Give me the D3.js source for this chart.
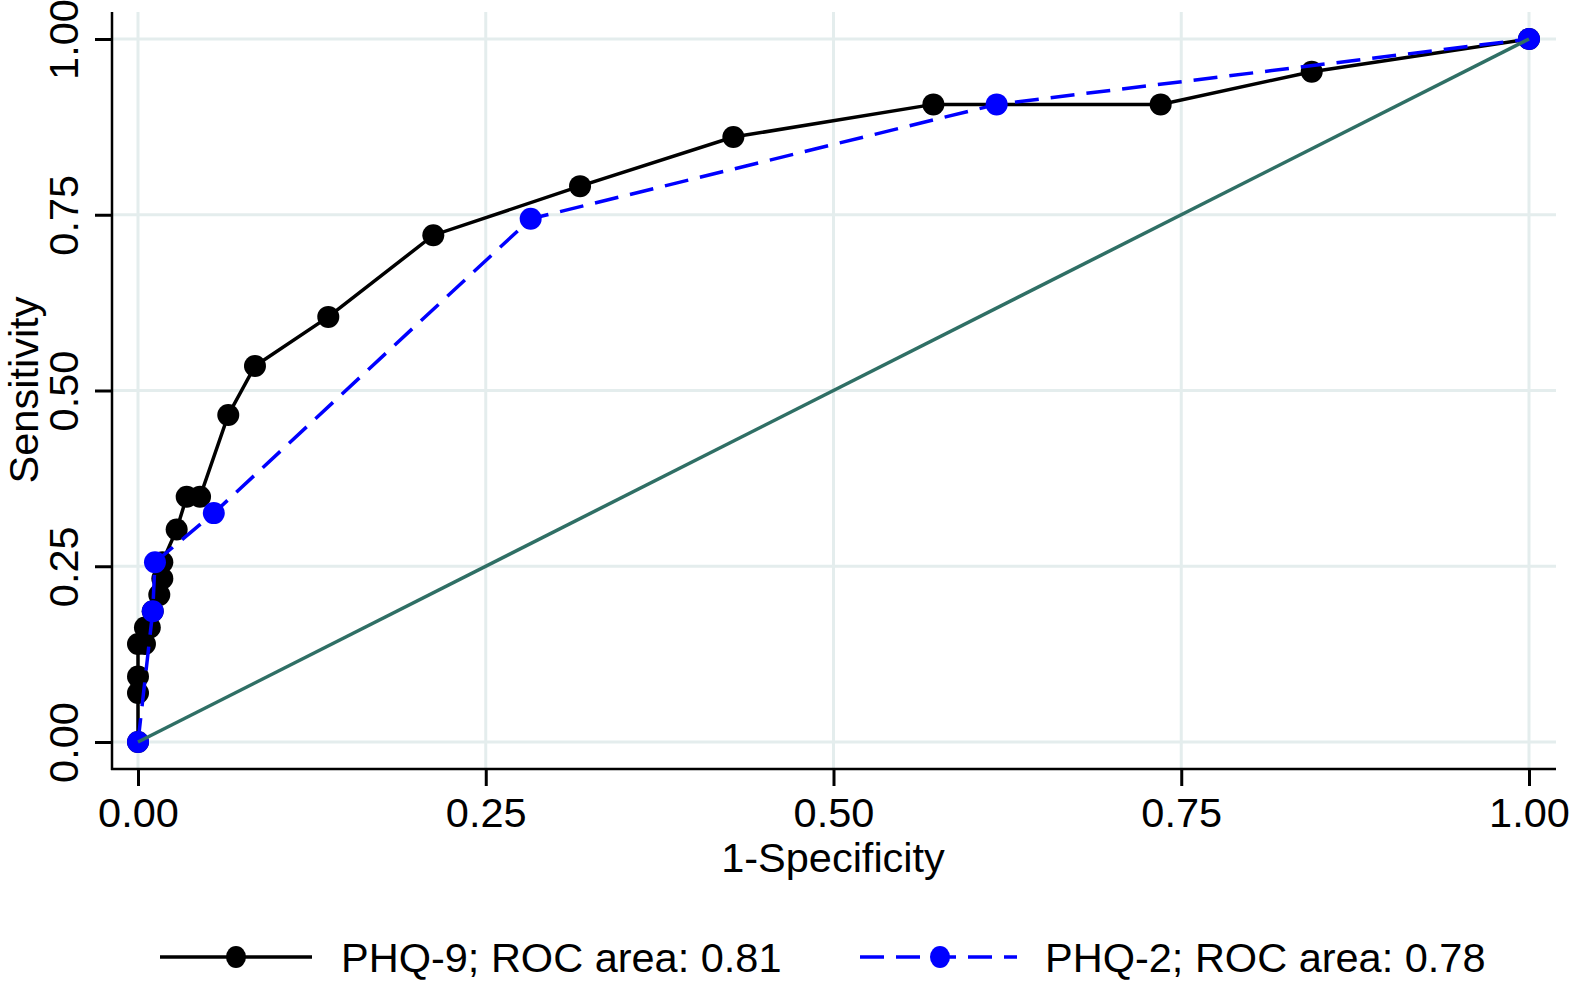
<!DOCTYPE html>
<meta charset="utf-8">
<style>
  body { margin: 0; background: #fff; }
  text { font-family: "Liberation Sans", Arial, sans-serif; fill: #000; }
</style>
<body>
<div id="chart"></div>
<script src="https://d3js.org/d3.v7.min.js"></script>
<script>
  // ROC points (1-specificity, sensitivity)
  var phq9Fpr  = [0, 0, 0, 0, 0.005, 0.005, 0.0085, 0.0106, 0.0153, 0.0175, 0.0175, 0.0278, 0.035, 0.0446, 0.0649, 0.0841, 0.1368, 0.2123, 0.3178, 0.428, 0.5718, 0.7352, 0.8438, 1];
  var phq9Sens = [0, 0.0698, 0.093, 0.1395, 0.1395, 0.1628, 0.1628, 0.186, 0.2093, 0.2326, 0.2558, 0.3023, 0.3488, 0.3488, 0.4651, 0.5349, 0.6047, 0.7209, 0.7907, 0.8605, 0.907, 0.907, 0.9535, 1];

  var phq2Fpr  = [0, 0.0106, 0.0122, 0.0545, 0.2823, 0.6173, 1];
  var phq2Sens = [0, 0.186, 0.2558, 0.3256, 0.7442, 0.907, 1];

  var tickValues = [0, 0.25, 0.5, 0.75, 1];
  var legendLabels = ["PHQ-9; ROC area: 0.81", "PHQ-2; ROC area: 0.78"];

  var W = 1569, H = 981;
  var frame = { left: 112, right: 1556, top: 12, bottom: 769 };
  var fontSize = "41.5px";

  var svg = d3.select("#chart").append("svg")
    .attr("width", W)
    .attr("height", H);

  var x = d3.scaleLinear().domain([0, 1]).range([138, 1529]);
  var y = d3.scaleLinear().domain([0, 1]).range([742, 39]);
  var fmt = d3.format(".2f");

  // grid
  var gridColor = "#e4eded";
  svg.append("g").selectAll("line")
    .data(tickValues)
    .enter().append("line")
    .attr("x1", function (d) { return x(d); })
    .attr("x2", function (d) { return x(d); })
    .attr("y1", frame.top)
    .attr("y2", frame.bottom)
    .style("stroke", gridColor)
    .style("stroke-width", 3);
  svg.append("g").selectAll("line")
    .data(tickValues)
    .enter().append("line")
    .attr("x1", frame.left)
    .attr("x2", frame.right)
    .attr("y1", function (d) { return y(d); })
    .attr("y2", function (d) { return y(d); })
    .style("stroke", gridColor)
    .style("stroke-width", 3);

  // axes
  var yAxis = svg.append("g")
    .attr("transform", "translate(" + frame.left + ",0)")
    .call(d3.axisLeft(y).tickValues(tickValues).tickSize(17).tickFormat(fmt));
  var xAxis = svg.append("g")
    .attr("transform", "translate(0," + frame.bottom + ")")
    .call(d3.axisBottom(x).tickValues(tickValues).tickSize(17).tickFormat(fmt));

  [xAxis, yAxis].forEach(function (a) {
    a.select(".domain").remove();
    a.selectAll(".tick line").style("stroke", "#000").style("stroke-width", 3);
    a.selectAll(".tick text").style("font-size", fontSize).style("fill", "#000");
  });

  xAxis.selectAll(".tick text")
    .attr("y", 58)
    .attr("dy", 0);
  yAxis.selectAll(".tick text")
    .attr("x", 0)
    .attr("dy", 0)
    .attr("text-anchor", "middle")
    .attr("transform", "translate(-34,0) rotate(-90)");

  svg.append("line")
    .attr("x1", frame.left).attr("x2", frame.left)
    .attr("y1", frame.top).attr("y2", frame.bottom + 1)
    .style("stroke", "#000").style("stroke-width", 2.5);
  svg.append("line")
    .attr("x1", frame.left - 1).attr("x2", frame.right)
    .attr("y1", frame.bottom).attr("y2", frame.bottom)
    .style("stroke", "#000").style("stroke-width", 2.5);

  // axis titles
  svg.append("text")
    .attr("x", 833)
    .attr("y", 872)
    .attr("text-anchor", "middle")
    .style("font-size", fontSize)
    .text("1-Specificity");
  svg.append("text")
    .attr("transform", "translate(38,390) rotate(-90)")
    .attr("text-anchor", "middle")
    .style("font-size", fontSize)
    .text("Sensitivity");

  var line = d3.line()
    .x(function (d) { return x(d[0]); })
    .y(function (d) { return y(d[1]); });

  var phq9 = d3.zip(phq9Fpr, phq9Sens);
  var phq2 = d3.zip(phq2Fpr, phq2Sens);

  // PHQ-9
  svg.append("path")
    .datum(phq9)
    .attr("d", line)
    .style("fill", "none")
    .style("stroke", "#000")
    .style("stroke-width", 3.5);
  svg.append("g").selectAll("circle")
    .data(phq9)
    .enter().append("circle")
    .attr("cx", function (d) { return x(d[0]); })
    .attr("cy", function (d) { return y(d[1]); })
    .attr("r", 11)
    .style("fill", "#000");

  // PHQ-2
  svg.append("path")
    .datum(phq2)
    .attr("d", line)
    .style("fill", "none")
    .style("stroke", "#0000ff")
    .style("stroke-width", 3.5)
    .style("stroke-dasharray", "24,12");
  svg.append("g").selectAll("circle")
    .data(phq2)
    .enter().append("circle")
    .attr("cx", function (d) { return x(d[0]); })
    .attr("cy", function (d) { return y(d[1]); })
    .attr("r", 11)
    .style("fill", "#0000ff");

  // reference line
  svg.append("line")
    .attr("x1", x(0)).attr("y1", y(0))
    .attr("x2", x(1)).attr("y2", y(1))
    .style("stroke", "#2f6f65")
    .style("stroke-width", 3.5);

  // legend
  var legend = [
    { x0: 160, x1: 312, mx: 236, tx: 341, color: "#000", dash: null },
    { x0: 860, x1: 1017, mx: 940, tx: 1045, color: "#0000ff", dash: "24,12" }
  ];
  legend.forEach(function (l, i) {
    svg.append("line")
      .attr("x1", l.x0).attr("x2", l.x1)
      .attr("y1", 957).attr("y2", 957)
      .style("stroke", l.color)
      .style("stroke-width", 3.5)
      .style("stroke-dasharray", l.dash);
    svg.append("ellipse")
      .attr("cx", l.mx).attr("cy", 957)
      .attr("rx", 10).attr("ry", 11)
      .style("fill", l.color);
    svg.append("text")
      .attr("x", l.tx)
      .attr("y", 972)
      .style("font-size", fontSize)
      .text(legendLabels[i]);
  });
</script>
</body>
